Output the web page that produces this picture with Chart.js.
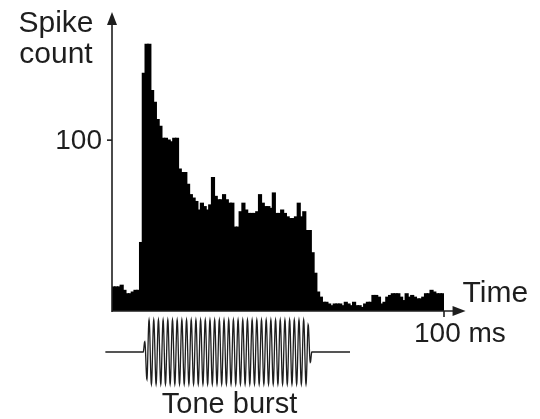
<!DOCTYPE html>
<html lang="en">
<head>
    <meta charset="UTF-8">
    <title>PSTH - Tone burst</title>
    <style>
        html, body { margin: 0; padding: 0; background: #fff; }
        #wrap { width: 540px; height: 419px; }
    </style>
</head>
<body>

    <div id="wrap">
        <canvas id="psth" width="540" height="419"></canvas>
    </div>

    <script src="https://cdn.jsdelivr.net/npm/chart.js"></script>
    <script>
        // 120 bins over 100 ms
        const binMs = 100 / 120;
        const spikeCounts = [
            14, 14, 14, 15, 12, 10, 10, 11, 12, 12,
            40, 139, 156, 156, 129, 122, 112, 108, 101, 101,
            100, 99, 101, 101, 83, 81, 81, 74, 68, 66,
            64, 59, 63, 61, 59, 62, 78, 67, 65, 65,
            68, 65, 63, 63, 49, 49, 58, 63, 59, 57,
            57, 57, 58, 68, 63, 61, 61, 60, 69, 57,
            57, 59, 57, 55, 54, 54, 55, 63, 55, 58,
            47, 47, 34, 22, 11, 8, 5, 5, 4, 3,
            4, 4, 4, 3, 5, 4, 3, 5, 3, 3,
            2, 4, 5, 5, 9, 9, 8, 4, 5, 8,
            9, 10, 10, 10, 8, 6, 10, 8, 9, 8,
            7, 7, 8, 10, 10, 12, 11, 10, 10, 10
        ];
        const binLabels = spikeCounts.map((_, i) => (i * binMs).toFixed(2));

        const yTickValues = [100];
        const xTickValues = [100];
        const xTickLabels = ['100 ms'];

        // stimulus (ms)
        const toneOnset = 9.4;
        const toneOffset = 60.2;
        const toneCycles = 36;
        const traceStart = -2;
        const traceEnd = 71.7;

        const FONT = '"Liberation Sans", Arial, Helvetica, sans-serif';
        const INK = '#1e1e1e';

        function arrowHead(ctx, x, y, dir) {
            ctx.beginPath();
            if (dir === 'up') {
                ctx.moveTo(x, y);
                ctx.lineTo(x - 5, y + 13);
                ctx.lineTo(x + 5, y + 13);
            } else {
                ctx.moveTo(x, y);
                ctx.lineTo(x - 13, y - 5);
                ctx.lineTo(x - 13, y + 5);
            }
            ctx.closePath();
            ctx.fill();
        }

        const axesPlugin = {
            id: 'axesPlugin',
            afterDatasetsDraw(chart) {
                const { ctx, chartArea: a, scales } = chart;
                const y = scales.y;
                const ms = scales.ms;
                const base = y.getPixelForValue(0);

                ctx.save();
                ctx.strokeStyle = INK;
                ctx.fillStyle = INK;
                ctx.lineWidth = 1.6;

                // y axis
                ctx.beginPath();
                ctx.moveTo(a.left, base + 1);
                ctx.lineTo(a.left, a.top + 8);
                ctx.stroke();
                arrowHead(ctx, a.left, a.top, 'up');

                // x axis
                const xEnd = ms.getPixelForValue(106.5);
                ctx.beginPath();
                ctx.moveTo(a.left, base);
                ctx.lineTo(xEnd - 8, base);
                ctx.stroke();
                arrowHead(ctx, xEnd, base, 'right');

                ctx.font = '28px ' + FONT;
                ctx.textBaseline = 'alphabetic';

                // y ticks
                yTickValues.forEach(v => {
                    const py = y.getPixelForValue(v);
                    ctx.beginPath();
                    ctx.moveTo(a.left - 5, py);
                    ctx.lineTo(a.left, py);
                    ctx.stroke();
                    ctx.textAlign = 'right';
                    ctx.fillText(String(v), a.left - 10, py + 9);
                });

                // x ticks
                xTickValues.forEach((v, i) => {
                    const px = ms.getPixelForValue(v);
                    ctx.beginPath();
                    ctx.moveTo(px, base);
                    ctx.lineTo(px, base + 6);
                    ctx.stroke();
                    ctx.textAlign = 'left';
                    ctx.fillText(xTickLabels[i], px - 30, base + 31);
                });

                // axis titles
                ctx.font = '30px ' + FONT;
                ctx.textAlign = 'center';
                ctx.fillText('Spike', a.left - 56, 32);
                ctx.fillText('count', a.left - 56, 63);
                ctx.textAlign = 'left';
                ctx.fillText('Time', xEnd - 3, base - 9);

                // tone burst trace
                const mid = 352;
                const amp = 32;
                const x0 = ms.getPixelForValue(traceStart);
                const xOn = ms.getPixelForValue(toneOnset);
                const xOff = ms.getPixelForValue(toneOffset);
                const x1 = ms.getPixelForValue(traceEnd);
                ctx.lineWidth = 1.3;
                ctx.beginPath();
                ctx.moveTo(x0, mid);
                ctx.lineTo(xOn, mid);
                const steps = toneCycles * 24;
                const ramp = 0.025;
                for (let k = 0; k <= steps; k++) {
                    const f = k / steps;
                    let env = 1;
                    if (f < ramp) env = f / ramp;
                    else if (f > 1 - ramp) env = (1 - f) / ramp;
                    const px = xOn + (xOff - xOn) * f;
                    ctx.lineTo(px, mid - amp * env * Math.sin(2 * Math.PI * toneCycles * f));
                }
                ctx.lineTo(x1, mid);
                ctx.stroke();

                ctx.font = '29px ' + FONT;
                ctx.textAlign = 'center';
                ctx.fillText('Tone burst', (xOn + xOff) / 2 + 2, 413);

                ctx.restore();
            }
        };

        new Chart(document.getElementById('psth'), {
            type: 'bar',
            data: {
                labels: binLabels,
                datasets: [{
                    label: 'Spike count',
                    data: spikeCounts,
                    backgroundColor: '#000',
                    borderWidth: 0,
                    inflateAmount: 0.7,
                    barPercentage: 1,
                    categoryPercentage: 1
                }]
            },
            options: {
                responsive: false,
                animation: false,
                layout: { padding: { left: 112, right: 96, top: 12, bottom: 108 } },
                plugins: { legend: { display: false }, tooltip: { enabled: false } },
                scales: {
                    x: { display: false },
                    ms: { type: 'linear', axis: 'x', min: 0, max: 100, offset: false, display: false },
                    y: { display: false, min: 0, max: 175 }
                }
            },
            plugins: [axesPlugin]
        });
    </script>

</body>
</html>
